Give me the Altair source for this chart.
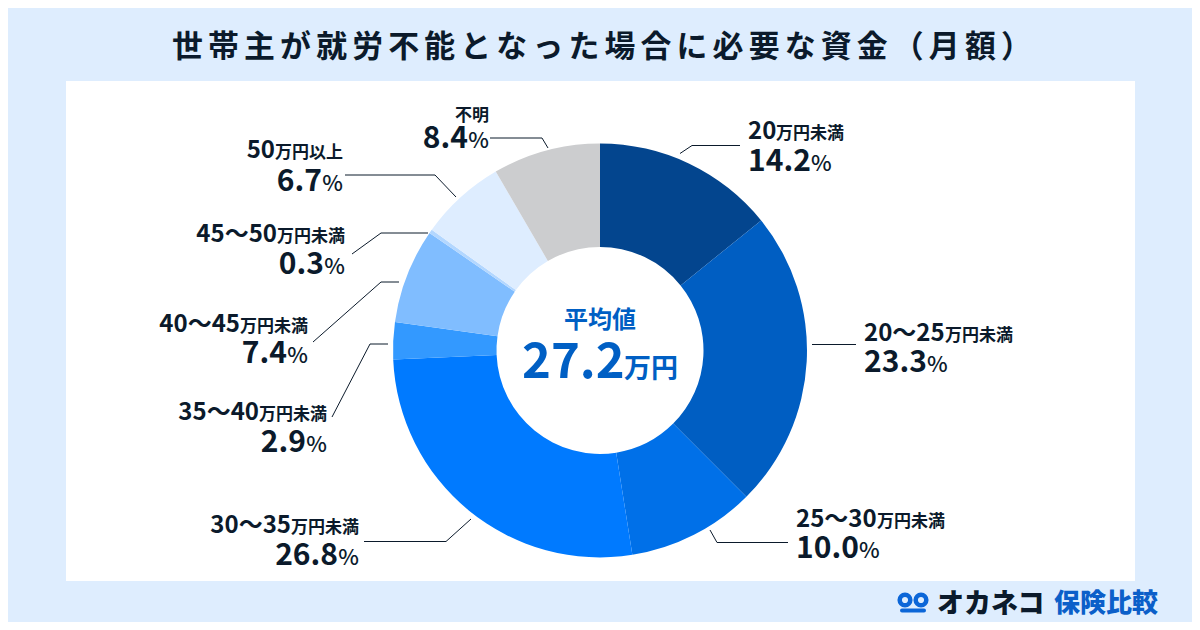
import altair as alt

FONT = "Noto Sans CJK JP"
INK = "#0b1a2b"
BLUE = "#005fc4"
PAGE_BG = "#deedfe"
GAP = "\u2006"

TITLE_CHARS = list("世帯主が就労不能となった場合に必要な資金（月額）")
TITLE = GAP.join(TITLE_CHARS)
categories = ["20万円未満", "20〜25万円未満", "25〜30万円未満", "30〜35万円未満", "35〜40万円未満",
              "40〜45万円未満", "45〜50万円未満", "50万円以上", "不明"]
shares = [14.2, 23.3, 10.0, 26.8, 2.9, 7.4, 0.3, 6.7, 8.4]
slice_colors = ["#03458e", "#005ec2", "#0070e8", "#007aff", "#3399ff", "#80bdff", "#b3d7ff", "#deedff", "#cccdcf"]

# label layout in page pixels: head text, head tail, value text, baselines, anchor x, side
label_layout = [
    ("20", "万円未満", "14.2", 139, 171, 748, "L"),
    ("20〜25", "万円未満", "23.3", 341, 372, 864, "L"),
    ("25〜30", "万円未満", "10.0", 527, 558, 796, "L"),
    ("30〜35", "万円未満", "26.8", 533, 565, 359, "R"),
    ("35〜40", "万円未満", "2.9", 420, 452, 327, "R"),
    ("40〜45", "万円未満", "7.4", 332, 363, 308, "R"),
    ("45〜50", "万円未満", "0.3", 242, 274, 345, "R"),
    ("50", "万円以上", "6.7", 158, 191, 343, "R"),
]
leaders = [
    (680, 153.5, 692, 145.5), (692, 145.5, 740, 145.5),
    (812, 344.5, 856, 344.5),
    (710, 530, 717, 542.5), (717, 542.5, 788, 542.5),
    (471, 519, 446, 541.5), (446, 541.5, 364, 541.5),
    (332, 417, 370, 344), (370, 344, 388, 344),
    (313, 342, 381, 282), (381, 282, 399, 282),
    (352, 254, 381, 233), (381, 233, 428, 233),
    (345, 175, 435, 175), (435, 175, 456, 197),
    (490, 138, 542, 138), (542, 138, 548, 148),
]

HEAD, TAIL, VALUE, PCT = 24, 17, 30, 22
rows = []
def add(t, x, y, s, c=INK, a="left", w=700):
    rows.append(dict(t=t, x=x, y=y, s=s, c=c, a=a, w=w))

for head, tail, val, y1, y2, ax, side in label_layout:
    if side == "L":
        hw = 81 if "〜" in head else 28
        add(head, ax, y1, HEAD)
        add(tail, ax + hw, y1, TAIL)
        add(val, ax, y2, VALUE)
        add("%", ax + 63, y2, PCT, w=500)
    else:
        add(tail, ax, y1, TAIL, a="right")
        add(head, ax - 68, y1, HEAD, a="right")
        add("%", ax, y2, PCT, a="right", w=500)
        add(val, ax - 21, y2, VALUE, a="right")
add("不明", 489, 121, 17, a="right")
add("%", 489, 148, PCT, a="right", w=500)
add("8.4", 468, 148, VALUE, a="right")
add(TITLE, 172, 57, 30.9)
add("平均値", 600, 328, 24, c=BLUE, a="center")
add("27.2", 522, 378, 49, c=BLUE)
add("万円", 624, 378, 27, c=BLUE)
add("オカネコ", 937, 613, 27, w=900)
add("保険比較", 1054, 612, 26, c="#0b5fc9", w=900)

X = alt.Scale(domain=[8, 1192], range=[0, 1184])
Y = alt.Scale(domain=[8, 622], range=[0, 614])
px = alt.X("x:Q", scale=X, axis=None)
py = alt.Y("y:Q", scale=Y, axis=None)

panel = alt.Chart(alt.Data(values=[{"x": 66, "x2": 1135, "y": 81, "y2": 581}])).mark_rect(color="white").encode(
    x=px, x2="x2:Q", y=py, y2="y2:Q")

pie_data = [dict(cat=c, share=v, i=i) for i, (c, v) in enumerate(zip(categories, shares))]
pie = alt.Chart(alt.Data(values=pie_data)).mark_arc(outerRadius=207, innerRadius=103.5).encode(
    x=alt.value(592), y=alt.value(342.4),
    theta=alt.Theta("share:Q", stack=True, scale=alt.Scale(domain=[0, 100], range=[0, 6.283185307])),
    order=alt.Order("i:Q"),
    color=alt.Color("cat:N", sort=categories, scale=alt.Scale(domain=categories, range=slice_colors), legend=None),
)

lead_rows = [dict(x=a, y=b, x2=c, y2=d) for a, b, c, d in leaders]
lines = alt.Chart(alt.Data(values=lead_rows)).mark_rule(color="#0b1a2b", strokeWidth=1).encode(
    x=px, x2="x2:Q", y=py, y2="y2:Q")

def text_layer(a, w):
    sub = [r for r in rows if r["a"] == a and r["w"] == w]
    return alt.Chart(alt.Data(values=sub)).mark_text(
        align=a, baseline="alphabetic", font=FONT, fontWeight=w).encode(
        x=px, y=py, text="t:N",
        size=alt.Size("s:Q", scale=None),
        color=alt.Color("c:N", scale=None))

texts = [text_layer(a, w) for a, w in [("left", 700), ("left", 500), ("left", 900),
                                       ("right", 700), ("right", 500), ("center", 700)]]

rings = alt.Chart(alt.Data(values=[{"x": 905, "y": 600}, {"x": 921, "y": 600}])).mark_point(
    shape="circle", filled=False, size=113, strokeWidth=4.5, color="#0b66d8", opacity=1).encode(x=px, y=py)
base = alt.Chart(alt.Data(values=[{"x": 902, "x2": 924, "y": 610.5}])).mark_rule(
    color="#0b66d8", strokeWidth=4, strokeCap="round").encode(x=px, x2="x2:Q", y=py)

chart = alt.layer(panel, pie, lines, *texts, base, rings).properties(
    width=1184, height=614, padding=0,
    autosize=alt.AutoSizeParams(type="none"),
    background=PAGE_BG,
).configure_view(stroke=None)

chart.save("out.html", embed_options={"renderer": "svg", "actions": False})
